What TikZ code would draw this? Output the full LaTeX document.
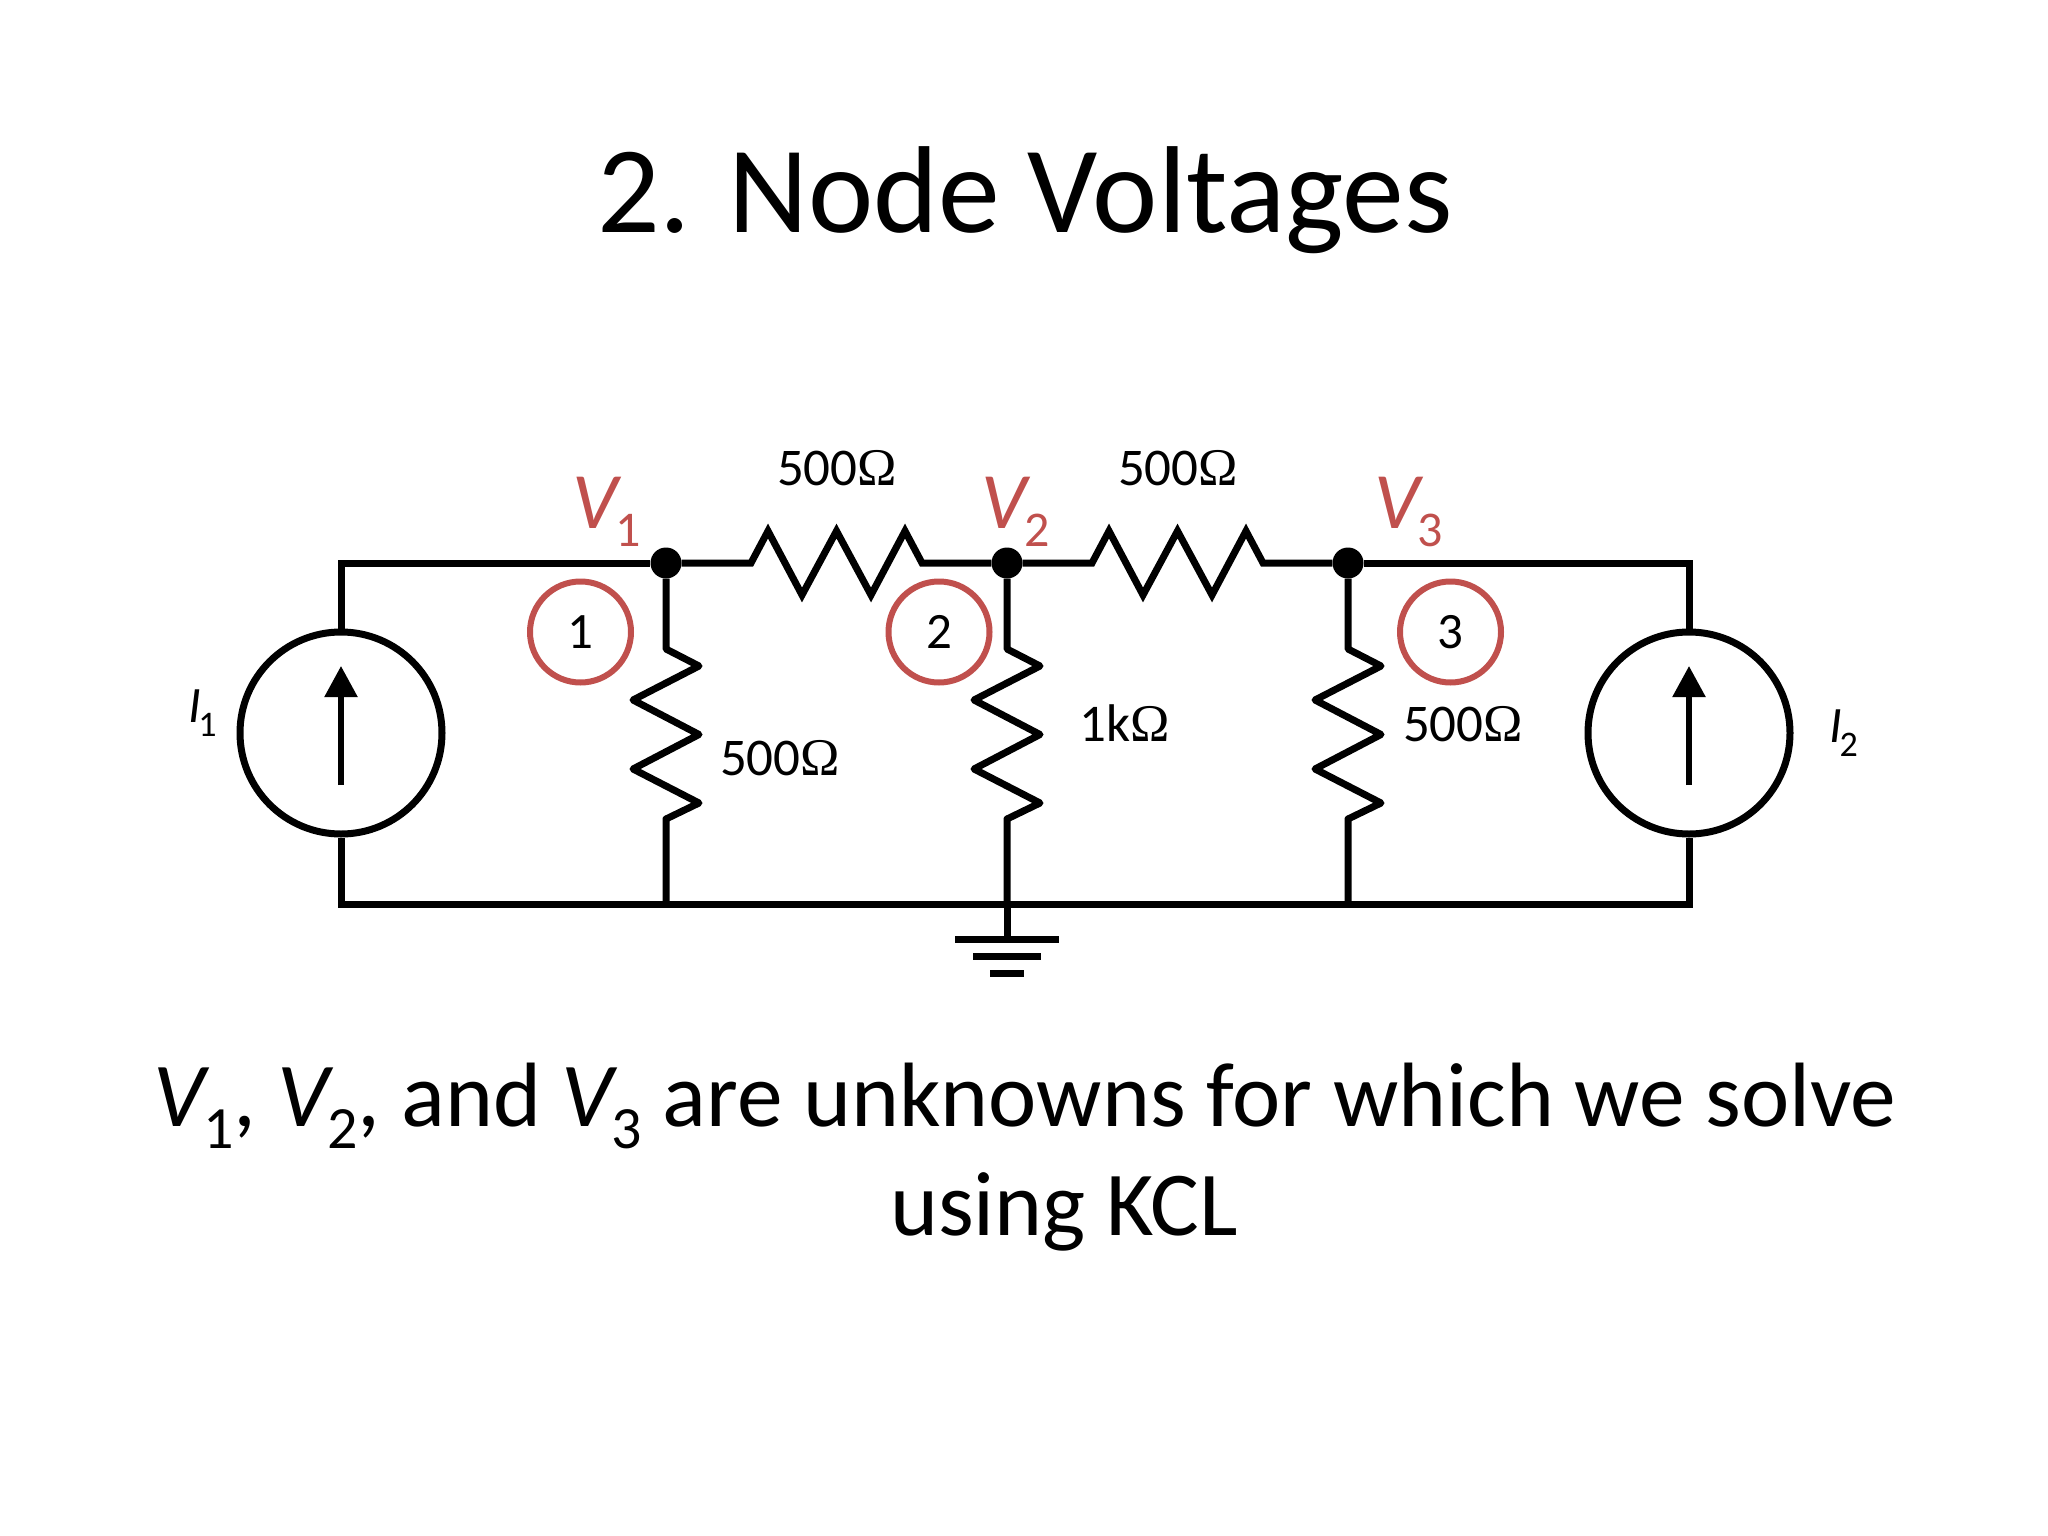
\documentclass[tikz,border=0pt]{standalone}
\usepackage{fontspec}
\setmainfont{Carlito}
\newfontfamily\ohmfont{Liberation Serif}
\usetikzlibrary{arrows.meta}
\definecolor{markred}{HTML}{C0504D}
\newcommand{\sized}[1]{\fontsize{#1}{#1}\selectfont}
\newcommand{\vsub}[3]{\textit{#1}\kern-.07em\raisebox{-#3}{#2}}
\newcommand{\ohm}{{\ohmfont\char"03A9}}
\newcommand{\hzig}[1]{-- ++(17,-32) -- ++(34,64) -- ++(34.5,-64) -- ++(34.5,64) -- ++(34,-64) -- (#1)}
\newcommand{\vzig}[1]{-- ++(33,17) -- ++(-66,34) -- ++(66,34.5) -- ++(-66,34.5) -- ++(66,34) -- (#1)}
\tikzset{
	wire/.style={line width=7pt},
	dot/.style={shape=circle,fill=black,inner sep=0pt,minimum size=31pt},
	source/.style={shape=circle,draw=black,line width=7pt,inner sep=0pt,minimum size=202pt},
	marker/.style={shape=circle,draw=markred,line width=6pt,inner sep=0pt,minimum size=101pt,font=\sized{51}},
	val/.style={font=\sized{53},inner sep=0pt,anchor=base},
	volt/.style={font=\sized{80},text=markred,inner sep=0pt,anchor=base west},
	cur/.style={font=\sized{51},inner sep=0pt,anchor=base west},
	big/.style={font=\sized{91.4},inner sep=0pt,anchor=base}
}
\begin{document}
\begin{tikzpicture}[x=1pt,y=-1pt]
	\useasboundingbox (0,0) rectangle (2048,1536);
	\node[big,font=\sized{123.7}] (title) at (1025,232) {2. Node Voltages};
	\node[dot] (n1) at (666,563) {};
	\node[dot] (n2) at (1007,563) {};
	\node[dot] (n3) at (1348,563) {};
	\node[source] (I1) at (341,733) {};
	\node[source] (I2) at (1689,733) {};
	\coordinate (tl) at (341,563);
	\coordinate (tr) at (1689,563);
	\coordinate (bl) at (341,904);
	\coordinate (br) at (1689,904);
	\coordinate (b1) at (666,904);
	\coordinate (b2) at (1007,904);
	\coordinate (b3) at (1348,904);
	\coordinate (g) at (1007,939);
	\coordinate (h12a) at (751,563);
	\coordinate (h12b) at (922,563);
	\coordinate (h23a) at (1092,563);
	\coordinate (h23b) at (1263,563);
	\coordinate (r1a) at (666,649);
	\coordinate (r1b) at (666,819);
	\coordinate (r2a) at (1007,649);
	\coordinate (r2b) at (1007,819);
	\coordinate (r3a) at (1348,649);
	\coordinate (r3b) at (1348,819);
	% outer loop
	\draw[wire] (I1.north) -- (tl) -- (n1);
	\draw[wire] (n3) -- (tr) -- (I2.north);
	\draw[wire] (I1.south) -- (bl) -- (br) -- (I2.south);
	% series resistors
	\draw[wire] (n1) -- (h12a) \hzig{h12b} -- (n2);
	\draw[wire] (n2) -- (h23a) \hzig{h23b} -- (n3);
	% shunt resistors
	\draw[wire,line join=round] (n1) -- (r1a) \vzig{r1b} -- (b1);
	\draw[wire,line join=round] (n2) -- (r2a) \vzig{r2b} -- (b2);
	\draw[wire,line join=round] (n3) -- (r3a) \vzig{r3b} -- (b3);
	% ground
	\draw[wire] (b2) -- (g);
	\coordinate (g1l) at (955,939);
	\coordinate (g1r) at (1059,939);
	\coordinate (g2l) at (973,956);
	\coordinate (g2r) at (1041,956);
	\coordinate (g3l) at (990,973);
	\coordinate (g3r) at (1024,973);
	\draw[wire] (g1l) -- (g1r);
	\draw[wire] (g2l) -- (g2r);
	\draw[wire] (g3l) -- (g3r);
	% source arrows
	\coordinate (a1) at (341,785);
	\coordinate (a1t) at (341,666);
	\coordinate (a2) at (1689,785);
	\coordinate (a2t) at (1689,666);
	\draw[line width=5.5pt,-{Triangle[width=32pt,length=31pt]}] (a1) -- (a1t);
	\draw[line width=5.5pt,-{Triangle[width=32pt,length=31pt]}] (a2) -- (a2t);
	% labels
	\node[marker] (m1) at (580.5,632) {1};
	\node[marker] (m2) at (939,632) {2};
	\node[marker] (m3) at (1450.5,632) {3};
	\node[volt] (v1) at (572,528) {\vsub{V}{\sized{50}1}{18pt}};
	\node[volt] (v2) at (981,528) {\vsub{V}{\sized{50}2}{18pt}};
	\node[volt] (v3) at (1374,528) {\vsub{V}{\sized{50}3}{18pt}};
	\node[val] (l12) at (837,485) {500\ohm};
	\node[val] (l23) at (1178,485) {500\ohm};
	\node[val] (l1) at (780,775) {500\ohm};
	\node[val] (l2) at (1124.5,741) {1k\ohm};
	\node[val] (l3) at (1463,741) {500\ohm};
	\node[cur] (c1) at (188,722) {\vsub{I}{\kern1pt\sized{36}1}{14pt}};
	\node[cur] (c2) at (1829,742) {\vsub{I}{\kern1pt\sized{36}2}{14pt}};
	\node[big] (body1) at (1025,1126) {\vsub{V}{\sized{60}1}{22pt}, \vsub{V}{\sized{60}2}{22pt}, and \vsub{V}{\sized{60}3}{22pt} are unknowns for which we solve};
	\node[big] (body2) at (1064,1235) {using KCL};
\end{tikzpicture}
\end{document}
